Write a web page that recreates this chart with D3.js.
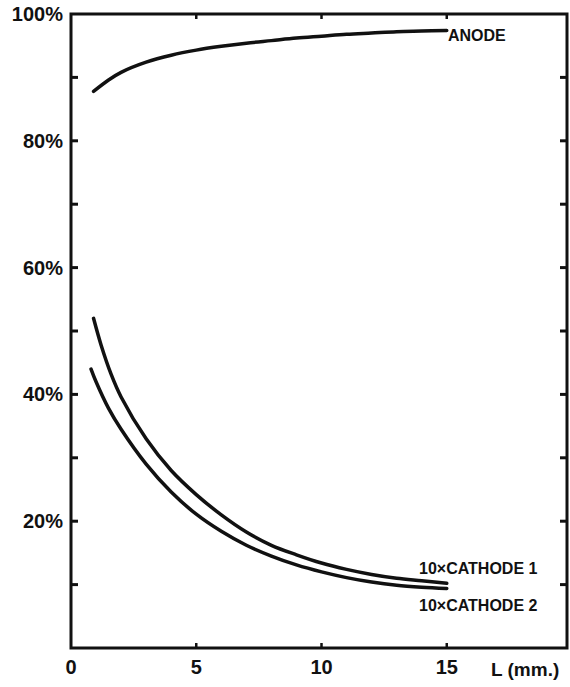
<!DOCTYPE html>
<html>
<head>
<meta charset="utf-8">
<script src="https://cdn.jsdelivr.net/npm/d3@7"></script>
<style>
  body { margin: 0; background: #fff; }
  text { font-family: "Liberation Sans", Arial, sans-serif; fill: #111; }
</style>
</head>
<body>
<div id="chart"></div>
<script>
// values (L in mm, percent)
var anodeL = [0.9, 1.5, 2, 3, 4, 5, 6, 7, 8, 9, 10, 11, 12, 13, 14, 15];
var anodeV = [87.8, 89.6, 90.8, 92.4, 93.5, 94.3, 94.9, 95.4, 95.8, 96.2, 96.5, 96.8, 97.0, 97.2, 97.3, 97.4];

var cath1L = [0.9, 1.2, 1.6, 2, 3, 4, 5, 6, 7, 8, 9, 10, 11, 12, 13, 14, 15];
var cath1V = [52.0, 47.8, 43.2, 39.6, 33.0, 28.0, 24.2, 21.0, 18.3, 16.2, 14.7, 13.4, 12.4, 11.6, 11.0, 10.6, 10.2];

var cath2L = [0.8, 1, 1.5, 2, 3, 4, 5, 6, 7, 8, 9, 10, 11, 12, 13, 14, 15];
var cath2V = [44.0, 42.0, 37.8, 34.5, 29.0, 24.6, 21.1, 18.4, 16.2, 14.5, 13.1, 12.0, 11.1, 10.4, 9.9, 9.6, 9.4];

var yLabels = [20, 40, 60, 80, 100];
var yTicks = [10, 20, 30, 40, 50, 60, 70, 80, 90];
var xLabels = [0, 5, 10, 15];
var xTicks = [5, 10, 15];

var width = 570, height = 687;

var svg = d3.select("#chart").append("svg")
  .attr("width", width)
  .attr("height", height);

var x = d3.scaleLinear().domain([0, 19.8]).range([71, 567]);
var y = d3.scaleLinear().domain([0, 100]).range([648, 14]);

// frame
svg.append("rect")
  .attr("x", x(0)).attr("y", y(100))
  .attr("width", x(19.8) - x(0)).attr("height", y(0) - y(100))
  .attr("fill", "none").attr("stroke", "#111").attr("stroke-width", 3);

// ticks, all pointing inward
svg.selectAll(".ytl").data(yTicks).enter().append("line")
  .attr("x1", x(0)).attr("x2", x(0) + 7)
  .attr("y1", d => y(d)).attr("y2", d => y(d))
  .attr("stroke", "#111").attr("stroke-width", 3);
svg.selectAll(".ytr").data(yTicks).enter().append("line")
  .attr("x1", x(19.8)).attr("x2", x(19.8) - 7)
  .attr("y1", d => y(d)).attr("y2", d => y(d))
  .attr("stroke", "#111").attr("stroke-width", 3);
svg.selectAll(".xtb").data(xTicks).enter().append("line")
  .attr("x1", d => x(d)).attr("x2", d => x(d))
  .attr("y1", y(0)).attr("y2", y(0) - 5)
  .attr("stroke", "#111").attr("stroke-width", 2.5);
svg.selectAll(".xtt").data(xTicks).enter().append("line")
  .attr("x1", d => x(d)).attr("x2", d => x(d))
  .attr("y1", y(100)).attr("y2", y(100) + 5)
  .attr("stroke", "#111").attr("stroke-width", 2.5);

// tick labels
svg.selectAll(".yl").data(yLabels).enter().append("text")
  .attr("x", 63)
  .attr("y", d => y(d) + 7)
  .attr("text-anchor", "end")
  .style("font-size", "20px")
  .style("font-weight", "bold")
  .text(d => d + "%");

svg.selectAll(".xl").data(xLabels).enter().append("text")
  .attr("x", d => x(d))
  .attr("y", 674)
  .attr("text-anchor", "middle")
  .style("font-size", "20px")
  .style("font-weight", "bold")
  .text(d => d);

svg.append("text")
  .attr("x", 491).attr("y", 676)
  .style("font-size", "19px")
  .style("font-weight", "600")
  .text("L (mm.)");

// curves
var line = d3.line()
  .x(d => x(d[0]))
  .y(d => y(d[1]))
  .curve(d3.curveCatmullRom.alpha(0.5));

var series = [
  d3.zip(anodeL, anodeV),
  d3.zip(cath1L, cath1V),
  d3.zip(cath2L, cath2V)
];

svg.selectAll(".curve").data(series).enter().append("path")
  .attr("d", line)
  .attr("fill", "none")
  .attr("stroke", "#111")
  .attr("stroke-width", 3.5)
  .attr("stroke-linecap", "round");

// curve names
var names = [
  {t: "ANODE", x: 448, y: 41},
  {t: "10\u00d7CATHODE 1", x: 419, y: 574},
  {t: "10\u00d7CATHODE 2", x: 419, y: 611}
];
svg.selectAll(".nm").data(names).enter().append("text")
  .attr("x", d => d.x).attr("y", d => d.y)
  .style("font-size", "16px")
  .style("font-weight", "bold")
  .text(d => d.t);
</script>
</body>
</html>
